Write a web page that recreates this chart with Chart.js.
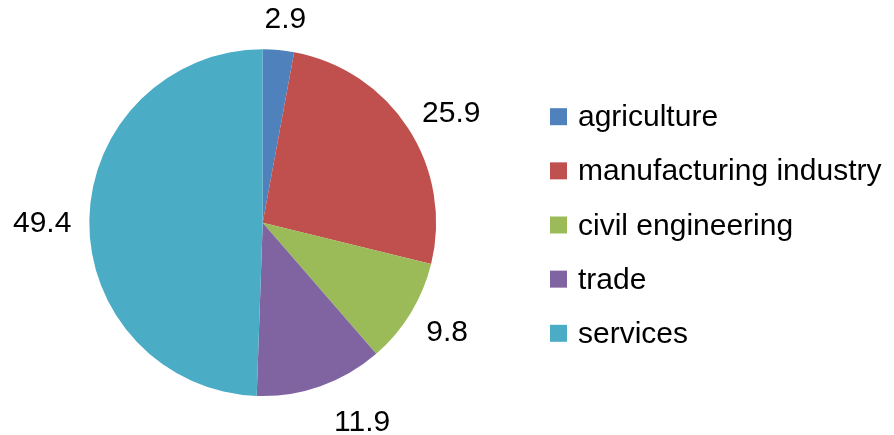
<!DOCTYPE html>
<html>
<head>
<meta charset="utf-8">
<title>employment by sector</title>
<script src="https://cdn.jsdelivr.net/npm/chart.js@4/dist/chart.umd.min.js"></script>
<style>
  html, body { margin: 0; padding: 0; background: #fff; }
  #sector-chart { display: block; }
</style>
</head>
<body>
<canvas id="sector-chart" width="894" height="435"></canvas>
<script>
// sector shares (percent)
const sectors = ['agriculture', 'manufacturing industry', 'civil engineering', 'trade', 'services'];
const shares = [2.9, 25.9, 9.8, 11.9, 49.4];
const sectorColors = ['#4F81BD', '#C0504D', '#9BBB59', '#8064A2', '#4BACC6'];

const FONT = '30px "Liberation Sans", Arial, sans-serif';

// value labels outside each slice
const sliceLabels = {
    id: 'sliceLabels',
    afterDatasetsDraw(chart, args, opts) {
        const ctx = chart.ctx;
        const meta = chart.getDatasetMeta(0);
        const nudge = opts.nudge || [];
        ctx.save();
        ctx.font = FONT;
        ctx.fillStyle = '#000';
        ctx.textAlign = 'center';
        ctx.textBaseline = 'alphabetic';
        meta.data.forEach((arc, i) => {
            const p = arc.getProps(['x', 'y', 'startAngle', 'endAngle', 'outerRadius'], true);
            const mid = (p.startAngle + p.endAngle) / 2;
            const dx = Math.cos(mid), dy = Math.sin(mid);
            const text = shares[i].toFixed(1);
            const halfW = ctx.measureText(text).width / 2;
            const halfH = 10.8;
            const ax = p.x + dx * (p.outerRadius + opts.gap);
            const ay = p.y + dy * (p.outerRadius + opts.gap);
            const n = nudge[i] || [0, 0];
            const cx = ax + dx * halfW + n[0];
            const cy = ay + dy * halfH + n[1];
            ctx.fillText(text, cx, cy + halfH);
        });
        ctx.restore();
    }
};

// legend on the right
const sideLegend = {
    id: 'sideLegend',
    afterDraw(chart) {
        const ctx = chart.ctx;
        ctx.save();
        ctx.font = FONT;
        ctx.textAlign = 'left';
        ctx.textBaseline = 'alphabetic';
        sectors.forEach((name, i) => {
            const cy = 116.7 + i * 54.15;
            ctx.fillStyle = sectorColors[i];
            ctx.fillRect(550, cy - 8.5, 17, 17);
            ctx.fillStyle = '#000';
            ctx.fillText(name, 578, cy + 9.5);
        });
        ctx.restore();
    }
};

const ctx = document.getElementById('sector-chart').getContext('2d');
new Chart(ctx, {
    type: 'pie',
    data: {
        labels: sectors,
        datasets: [{
            data: shares,
            backgroundColor: sectorColors,
            borderWidth: 0,
            hoverOffset: 0
        }]
    },
    options: {
        responsive: false,
        animation: false,
        layout: {
            padding: { left: 89.3, top: 49.3, right: 457.9, bottom: 38.9 }
        },
        plugins: {
            legend: { display: false },
            tooltip: { enabled: false },
            // excel-style placement, small per-label shifts
            sliceLabels: {
                gap: 22,
                nudge: [[3, 0], [0, 0], [0, 0], [25, 3], [4, 2]]
            }
        }
    },
    plugins: [sliceLabels, sideLegend]
});
</script>
</body>
</html>
